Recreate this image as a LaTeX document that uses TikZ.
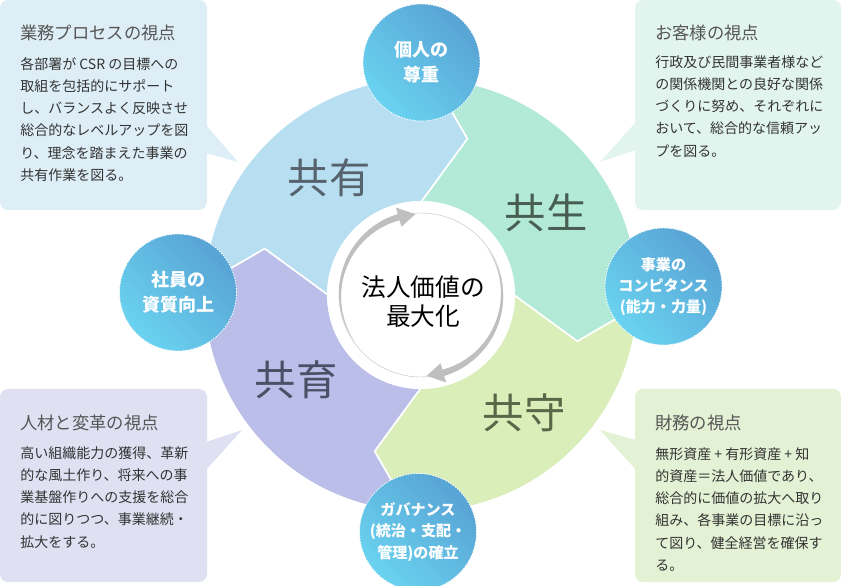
\documentclass[tikz,border=0pt]{standalone}
\usepackage{fontspec}
\setmainfont{Noto Sans CJK JP}

\definecolor{yuufill}{HTML}{B7DEF1}
\definecolor{seifill}{HTML}{B2EAD7}
\definecolor{shufill}{HTML}{D9EEB9}
\definecolor{ikufill}{HTML}{BABEE8}
\definecolor{yuubox}{HTML}{DDEEF7}
\definecolor{seibox}{HTML}{E2F4EE}
\definecolor{shubox}{HTML}{E3F1D5}
\definecolor{ikubox}{HTML}{DFE1F3}
\definecolor{yuutext}{HTML}{56626C}
\definecolor{seitext}{HTML}{485E52}
\definecolor{shutext}{HTML}{5A6648}
\definecolor{ikutext}{HTML}{4C5066}
\definecolor{bubblelight}{HTML}{6AD3F0}
\definecolor{bubbledark}{HTML}{58A3D4}
\definecolor{boxtext}{HTML}{333333}
\definecolor{boxtitle}{HTML}{555555}

\begin{document}
\begin{tikzpicture}[x=0.75pt, y=0.75pt,
  box/.style={rounded corners=6pt},
  title/.style={anchor=west, inner sep=0, text=boxtitle, font=\fontsize{13}{16}\selectfont},
  body/.style={anchor=north west, inner sep=0, align=left, text=boxtext, font=\fontsize{10.5}{16.7}\selectfont},
  kyou/.style={inner sep=0, font=\fontsize{31}{31}\selectfont},
  bubble/.style={circle, minimum size=87.75pt, inner sep=0, align=center, text=white,
    draw=white, line width=0.6pt, dash pattern=on 1.2pt off 0.9pt,
    top color=bubbledark, bottom color=bubblelight, shading angle=-45,
    font=\bfseries\fontsize{13.5}{18.75}\selectfont},
  small/.style={font=\bfseries\fontsize{11.3}{16}\selectfont},
  arrowfill/.style={fill=black!25}]
\useasboundingbox (0,0) rectangle (841,585);

% callouts
\fill[yuubox, box] (0,375) rectangle (207,585);
\fill[yuubox] (206,460) -- (238,423) -- (206,432) -- cycle;
\fill[seibox, box] (635,375) rectangle (841,585);
\fill[seibox] (636,463) -- (600,423) -- (636,435) -- cycle;
\fill[ikubox, box] (0,3) rectangle (207,196);
\fill[ikubox] (206,143) -- (242,155) -- (206,115) -- cycle;
\fill[shubox, box] (635,3) rectangle (841,196);
\fill[shubox] (636,145) -- (600,155) -- (636,115) -- cycle;

\node (gyoumu) at (20,552) [title] {業務プロセスの視点};
\node (gyoumutext) at (20,528) [body] {各部署が CSR の目標への\\取組を包括的にサポート\\し、バランスよく反映させ\\総合的なレベルアップを図\\り、理念を踏まえた事業の\\共有作業を図る。};
\node (okyaku) at (655,552) [title] {お客様の視点};
\node (okyakutext) at (655,530) [body] {行政及び民間事業者様など\\の関係機関との良好な関係\\づくりに努め、それぞれに\\おいて、総合的な信頼アッ\\プを図る。};
\node (jinzai) at (20,162) [title] {人材と変革の視点};
\node (jinzaitext) at (20,139) [body] {高い組織能力の獲得、革新\\的な風土作り、将来への事\\業基盤作りへの支援を総合\\的に図りつつ、事業継続・\\拡大をする。};
\node (zaimu) at (655,162) [title] {財務の視点};
\node (zaimutext) at (655,138) [body] {無形資産 + 有形資産 + 知\\的資産＝法人価値であり、\\総合的に価値の拡大へ取り\\組み、各事業の目標に沿っ\\て図り、健全経営を確保す\\る。};

% ring
\begin{scope}[shift={(421,290)}]
\foreach \a/\c in {0/seifill, 90/yuufill, 180/ikufill, 270/shufill}
  \filldraw[fill=\c, draw=white, line width=1.2pt] (\a:93) -- (\a-16.5:163) -- (\a-3:217)
    arc[start angle=\a-3, end angle=\a+87, radius=217] -- (\a+73.5:163) -- (\a+90:93)
    arc[start angle=\a+90, end angle=\a, radius=93] -- cycle;
\fill[white] (0,0) circle (94);
\draw[black!25, line width=0.3pt] (0,0) circle (82);
\foreach \r in {0,180}
  \fill[arrowfill, rotate=\r] plot[domain=215:106, samples=25] (\x:{81+0.03*(215-\x)})
    -- (106:91) -- (94:81) -- (106:71)
    -- plot[domain=106:215, samples=25] (\x:{81-0.03*(215-\x)}) -- cycle;
\node (houjin) at (2,-7) [align=center, font=\fontsize{18.5}{21.7}\selectfont] {法人価値の\\最大化};
\end{scope}

\node (kyouyuu) at (329,407) [kyou, text=yuutext] {共有};
\node (kyousei) at (546,372) [kyou, text=seitext] {共生};
\node (kyoushu) at (524,172) [kyou, text=shutext] {共守};
\node (kyouiku) at (296,205) [kyou, text=ikutext] {共育};

% perspectives
\node (sonchou) at (421.5,522.5) [bubble] {個人の\\尊重};
\node (shishitsu) at (178,292.5) [bubble] {社員の\\資質向上};
\node (competence) at (663.5,298.5) [bubble, small] {事業の\\コンピタンス\\(能力・力量)};
\node (governance) at (418,53) [bubble, small] {ガバナンス\\(統治・支配・\\管理)の確立};

\end{tikzpicture}
\end{document}
